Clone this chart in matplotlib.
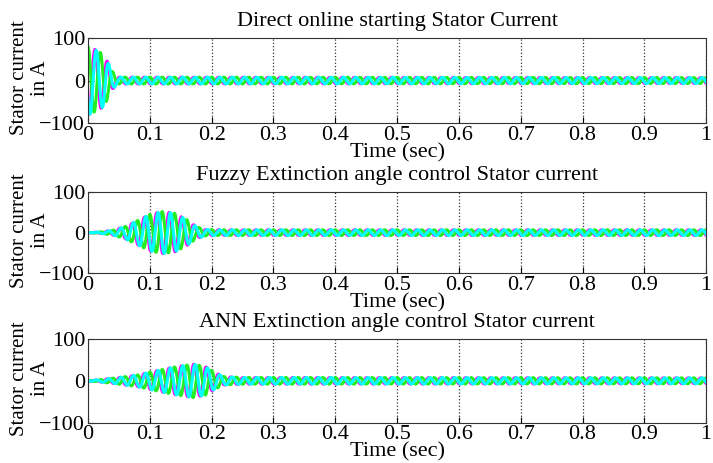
import numpy as np
import matplotlib
matplotlib.use('Agg')
import matplotlib.pyplot as plt

plt.rcParams['font.family'] = ['Liberation Serif', 'DejaVu Serif']

titles = ['Direct online starting Stator Current',
          'Fuzzy Extinction angle control Stator current',
          'ANN Extinction angle control Stator current']
ylabel_lines = ['Stator current', 'in A']

# peak current envelopes (A), per subplot
env_t = [
    [0.0, 0.005, 0.015, 0.025, 0.033, 0.04, 0.048, 1.0],
    [0.0, 0.02, 0.04, 0.06, 0.08, 0.10, 0.12, 0.14, 0.16, 0.175, 0.19, 0.21, 1.0],
    [0.0, 0.02, 0.05, 0.08, 0.11, 0.14, 0.17, 0.19, 0.205, 0.22, 0.25, 1.0],
]
env_a = [
    [80, 78, 70, 62, 40, 20, 8, 7],
    [0, 2, 6, 15, 30, 45, 52, 48, 32, 15, 8, 7, 7],
    [0, 3, 8, 14, 24, 33, 40, 34, 20, 10, 8, 7],
]

f_supply = 50.0
phase_colors = ['#ff00ff', '#22ee22', '#00ffff']
phase_shift = [-np.pi / 2 - 0.4, np.pi / 2, np.pi / 2 + 2 * np.pi / 3]

xticks = np.arange(0, 1.01, 0.1)
xtick_labels = ['0', '0.1', '0.2', '0.3', '0.4', '0.5', '0.6', '0.7', '0.8', '0.9', '1']
yticks = [-100, 0, 100]

t = np.linspace(0, 1, 20001)

fig = plt.figure(figsize=(7.13, 4.63), dpi=100)
bottoms = [0.734, 0.410, 0.087]
heights = [0.184, 0.175, 0.181]

for k in range(3):
    ax = fig.add_axes([0.1234, bottoms[k], 0.867, heights[k]])
    amp = np.interp(t, env_t[k], env_a[k])
    for c, ph in zip(phase_colors, phase_shift):
        ax.plot(t, amp * np.sin(2 * np.pi * f_supply * t + ph), color=c, lw=2.2)
    ax.set_xlim(0, 1)
    ax.set_ylim(-100, 100)
    ax.set_xticks(xticks)
    ax.set_xticklabels(xtick_labels)
    ax.set_yticks(yticks)
    ax.xaxis.grid(True, linestyle=':', color='#333333', lw=0.9)
    for s in ax.spines.values():
        s.set_color('#333333')
    ax.tick_params(direction='in', labelsize=16, pad=2, length=4)
    ax.set_title(titles[k], fontsize=16, pad=8.5)
    ax.set_xlabel('Time (sec)', fontsize=16, labelpad=-1.5)
    # two-line y label, drawn as separate lines like the original
    ax.text(-0.110, 0.53, ylabel_lines[0], transform=ax.transAxes, rotation=90,
            ha='center', va='center', fontsize=15)
    ax.text(-0.077, 0.53, ylabel_lines[1], transform=ax.transAxes, rotation=90,
            ha='center', va='center', fontsize=15)

fig.savefig('out.png', dpi=100)
